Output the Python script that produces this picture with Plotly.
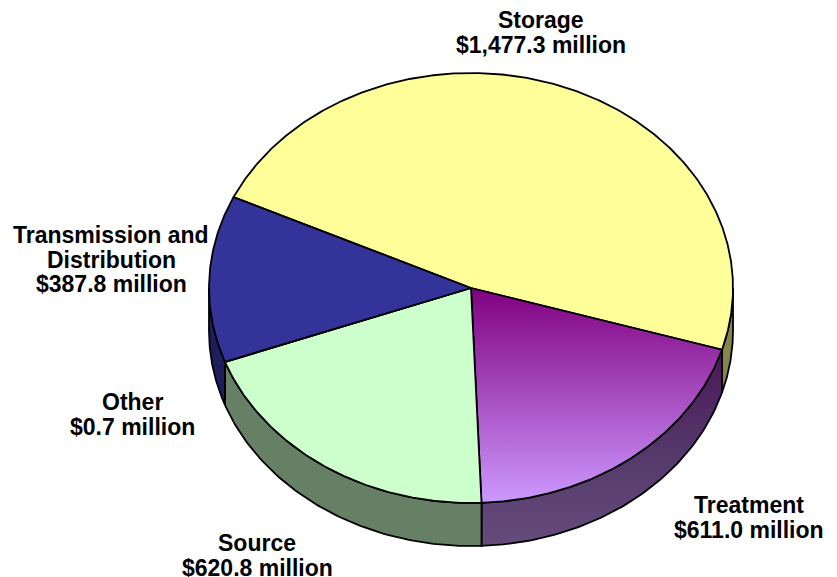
import numpy as np
import plotly.graph_objects as go

categories = ["Storage", "Treatment", "Source", "Other", "Transmission and<br>Distribution"]
amounts = [1477.3, 611.0, 620.8, 0.7, 387.8]
amount_labels = ["$1,477.3 million", "$611.0 million", "$620.8 million", "$0.7 million", "$387.8 million"]
top_colors = ["#ffff99", None, "#ccffcc", "#ffffcc", "#333399"]
side_colors = ["#858550", None, "#668066", "#858569", "#1e1e5c"]
label_x = [541, 749, 257, 132, 111]
label_first_y = [20, 505, 543, 402, 235]
LINE_GAP = 24.5

# Projection of the tilted disc onto the canvas
CX, CY, RX, RY, DEPTH = 471.0, 288.0, 262.0, 215.0, 43.0
START_DEG = 205.0


def rim(a0, a1, dy=0.0, n=90):
    t = np.radians(np.linspace(a0, a1, n))
    return CX + RX * np.cos(t), CY + RY * np.sin(t) + dy


shares = np.array(amounts) / sum(amounts) * 360.0
edges = START_DEG + np.concatenate([[0.0], np.cumsum(shares)])

fig = go.Figure()
OUTLINE = dict(color="black", width=1.8)


def patch(x, y, color=None, gradient=None):
    trace = dict(x=x, y=y, mode="lines", fill="toself", line=OUTLINE,
                 hoverinfo="skip", showlegend=False)
    if gradient:
        trace["fillgradient"] = gradient
    else:
        trace["fillcolor"] = color
    fig.add_trace(go.Scatter(**trace))


# Outer wall, only where the rim faces the viewer (clockwise degrees 0..180 modulo 360)
for i in range(len(amounts)):
    a0, a1 = edges[i], edges[i + 1]
    for lo, hi in ((0.0, 180.0), (360.0, 540.0)):
        s, e = max(a0, lo), min(a1, hi)
        if e <= s:
            continue
        xt, yt = rim(s, e)
        xb, yb = rim(e, s, DEPTH)
        x = np.concatenate([xt, xb, xt[:1]])
        y = np.concatenate([yt, yb, yt[:1]])
        if side_colors[i] is None:
            grad = dict(type="vertical", start=float(yt.min()), stop=float(yb.max()),
                        colorscale=[[0, "#4a1658"], [0.55, "#553a6c"], [1, "#664c7c"]])
            patch(x, y, gradient=grad)
        else:
            patch(x, y, color=side_colors[i])

# Top face
for i in range(len(amounts)):
    xr, yr = rim(edges[i], edges[i + 1], n=max(int(shares[i] * 2), 4))
    x = np.concatenate([[CX], xr, [CX]])
    y = np.concatenate([[CY], yr, [CY]])
    if top_colors[i] is None:
        grad = dict(type="vertical", start=CY, stop=CY + RY,
                    colorscale=[[0, "#800080"], [1, "#cc99ff"]])
        patch(x, y, gradient=grad)
    else:
        patch(x, y, color=top_colors[i])

# Each label line is placed on its own so the leading stays tighter than the default
for name, money, lx, ly in zip(categories, amount_labels, label_x, label_first_y):
    for k, line in enumerate(name.split("<br>") + [money]):
        fig.add_annotation(x=lx, y=ly + k * LINE_GAP, text=f"<b>{line}</b>", showarrow=False,
                           xanchor="center", yanchor="middle", align="center",
                           font=dict(family="Liberation Sans, Arial, sans-serif", size=23, color="black"))

fig.update_layout(width=837, height=577, margin=dict(l=0, r=0, t=0, b=0),
                  paper_bgcolor="white", plot_bgcolor="white", showlegend=False,
                  xaxis=dict(range=[0, 837], visible=False, fixedrange=True),
                  yaxis=dict(range=[577, 0], visible=False, fixedrange=True))
fig.write_html("out.html", config={"displayModeBar": False})
